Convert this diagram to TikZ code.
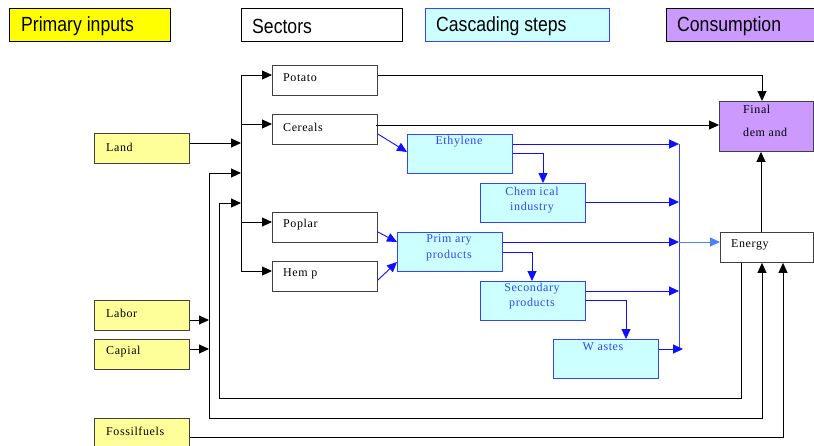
\documentclass[tikz,border=0pt]{standalone}
\usepackage{fontspec}
\usetikzlibrary{arrows.meta,calc}
\newfontfamily\hdrfont[FakeStretch=0.86]{Liberation Sans}
\newfontfamily\boxfont[LetterSpace=5]{Liberation Serif}
\definecolor{hdryellow}{HTML}{FFFF00}
\definecolor{inyellow}{HTML}{FFFF99}
\definecolor{cascfill}{HTML}{CCFFFF}
\definecolor{cascline}{HTML}{3344FF}
\definecolor{flowblue}{HTML}{1010FF}
\definecolor{lightflow}{HTML}{4D7FFF}
\definecolor{consfill}{HTML}{CC99FF}
\definecolor{edgegray}{HTML}{404040}
\tikzset{
  boxbase/.style={rectangle, anchor=north west, inner sep=0pt, line width=0.9pt},
  hdr/.style={boxbase, draw=black, minimum height=33pt},
  inputbox/.style={boxbase, draw=edgegray, fill=inyellow, minimum width=95pt, minimum height=30pt},
  sectorbox/.style={boxbase, draw=edgegray, fill=white, minimum width=105pt, minimum height=30pt},
  cascbox/.style={boxbase, draw=cascline, fill=cascfill, minimum width=105pt, minimum height=39pt},
  consbox/.style={boxbase, draw=edgegray, fill=consfill},
  hdrtext/.style={anchor=west, inner sep=0pt, font=\hdrfont\fontsize{20.5}{22}\selectfont},
  lbl/.style={anchor=west, inner sep=0pt, font=\boxfont\fontsize{12}{13}\selectfont},
  blbl/.style={anchor=center, inner sep=0pt, text=cascline, font=\boxfont\fontsize{12}{13}\selectfont},
  tip/.style={-{Triangle[length=10pt,width=9pt]}},
  arr/.style={tip, draw=black, line width=0.9pt},
  barr/.style={tip, draw=flowblue, line width=0.9pt},
  larr/.style={tip, draw=lightflow, line width=0.9pt},
  wire/.style={draw=black, line width=0.9pt},
}
\begin{document}
\begin{tikzpicture}[x=1pt,y=-1pt]
\useasboundingbox (0,0) rectangle (814,445);

% legend boxes along the top
\node[hdr, fill=hdryellow, minimum width=161pt] (hPrim) at (9,8) {};
\node[hdrtext] (hPrimT) at (21,26.5) {Primary inputs};
\node[hdr, fill=white, minimum width=161pt] (hSect) at (241,8) {};
\node[hdrtext] (hSectT) at (252,26.5) {Sectors};
\node[hdr, draw=cascline, fill=cascfill, minimum width=184pt] (hCasc) at (425,8) {};
\node[hdrtext] (hCascT) at (436,26.5) {Cascading steps};
\node[hdr, fill=consfill, minimum width=160pt] (hCons) at (666,8) {};
\node[hdrtext] (hConsT) at (677,26.5) {Consumption};

% primary inputs
\node[inputbox] (land) at (94,133) {};
\node[lbl] (landT) at (106,147) {Land};
\node[inputbox] (labor) at (94,300) {};
\node[lbl] (laborT) at (106,313) {Labor};
\node[inputbox] (capital) at (94,339) {};
\node[lbl] (capitalT) at (106,352) {Capial};
\node[inputbox] (fossil) at (94,418) {};
\node[lbl] (fossilT) at (106,431) {Fossilfuels};

% sectors
\node[sectorbox] (potato) at (272,65) {};
\node[lbl] (potatoT) at (283,78) {Potato};
\node[sectorbox] (cereals) at (272,114) {};
\node[lbl] (cerealsT) at (283,127) {Cereals};
\node[sectorbox] (poplar) at (272,212) {};
\node[lbl] (poplarT) at (283,225) {Poplar};
\node[sectorbox] (hemp) at (272,261) {};
\node[lbl] (hempT) at (283,274) {Hem p};

% cascading steps
\node[cascbox] (eth) at (407,134) {};
\node[blbl] (ethT) at (459,142) {Ethylene};
\node[cascbox] (chem) at (480,183) {};
\node[blbl] (chemT) at (532,191) {Chem ical};
\node[blbl] (chemT2) at (532,208) {industry};
\node[cascbox] (prim) at (397,232) {};
\node[blbl] (primT) at (449,240) {Prim ary};
\node[blbl] (primT2) at (449,256) {products};
\node[cascbox] (sec) at (480,281) {};
\node[blbl] (secT) at (532,289) {Secondary};
\node[blbl] (secT2) at (532,304) {products};
\node[cascbox] (wastes) at (553,339) {};
\node[blbl] (wastesT) at (603,347) {W astes};

% consumption and energy
\node[consbox, minimum width=94pt, minimum height=50pt] (fd) at (719,101) {};
\node[lbl] (fdT) at (743,109) {Final};
\node[lbl] (fdT2) at (743,132) {dem and};
\node[sectorbox, minimum width=93pt] (energy) at (720,232) {};
\node[lbl] (energyT) at (731,245) {Energy};

% distribution bus feeding the sectors
\coordinate (bt) at (241,75);
\coordinate (bb) at (241,271);
\draw[wire] (bt) -- (bb);
\coordinate (potIn) at ($(potato.north west)+(0,10)$);
\coordinate (cerIn) at ($(cereals.north west)+(0,10)$);
\coordinate (popIn) at ($(poplar.north west)+(0,10)$);
\coordinate (hemIn) at ($(hemp.north west)+(0,10)$);
\draw[arr] (potIn -| bt) -- (potIn);
\draw[arr] (cerIn -| bt) -- (cerIn);
\draw[arr] (popIn -| bt) -- (popIn);
\draw[arr] (hemIn -| bt) -- (hemIn);

% land onto the bus
\coordinate (landOut) at ($(land.north east)+(0,10)$);
\draw[arr] (landOut) -- (landOut -| bt);

% labour and capital rail
\coordinate (railB) at (209,418);
\coordinate (railBin) at (241,173);
\coordinate (laborOut) at ($(labor.north east)+(0,20)$);
\coordinate (capOut) at ($(capital.north east)+(0,10)$);
\draw[arr] (laborOut) -- (laborOut -| railB);
\draw[arr] (capOut) -- (capOut -| railB);
\draw[arr] (railB) |- (railBin);
\coordinate (eIn1) at ($(energy.south west)+(42,0)$);
\draw[arr] (railB) -| (eIn1);

% energy back into the sectors
\coordinate (eOut) at ($(energy.south west)+(21,0)$);
\coordinate (railA) at (219,398);
\coordinate (railAin) at (241,203);
\draw[arr] (eOut) |- (railA) |- (railAin);

% fossil fuels into energy
\coordinate (fosOut) at ($(fossil.north east)+(0,19)$);
\coordinate (eIn2) at ($(energy.south west)+(63,0)$);
\draw[arr] (fosOut) -| (eIn2);

% energy and sectors into final demand
\coordinate (eTop) at ($(energy.north west)+(41,0)$);
\draw[arr] (eTop) -- (eTop |- fd.south);
\coordinate (potOut) at ($(potato.north east)+(0,10)$);
\coordinate (fdTop) at ($(fd.north west)+(43,0)$);
\draw[arr] (potOut) -| (fdTop);
\coordinate (cerOut) at ($(cereals.north east)+(-2,11)$);
\draw[arr] (cerOut) -- (cerOut -| fd.west);

% sectors into the cascading chain
\draw[barr] ($(cereals.north east)+(0,20)$) -- ($(eth.north west)+(0,18)$);
\draw[barr] ($(poplar.north east)+(0,20)$) -- ($(prim.north west)+(0,10)$);
\draw[barr] ($(hemp.north east)+(0,19)$) -- ($(prim.north west)+(0,30)$);

% collector of the cascading outputs
\coordinate (ct) at (679,144);
\coordinate (cb) at (679,349);
\draw[draw=cascline, line width=0.9pt] (ct) -- (cb);
\coordinate (ethOut) at ($(eth.north east)+(0,10)$);
\draw[barr] (ethOut) -- (ethOut -| ct);
\draw[barr] ($(eth.north east)+(0,19)$) -| ($(chem.north west)+(63,0)$);
\coordinate (chemOut) at ($(chem.north east)+(0,19)$);
\draw[barr] (chemOut) -- (chemOut -| ct);
\coordinate (primOut) at ($(prim.north east)+(0,10)$);
\draw[barr] (primOut) -- (primOut -| ct);
\draw[barr] ($(prim.north east)+(0,20)$) -| ($(sec.north west)+(52,0)$);
\coordinate (secOut) at ($(sec.north east)+(0,10)$);
\draw[barr] (secOut) -- (secOut -| ct);
\draw[barr] ($(sec.north east)+(0,19)$) -| ($(wastes.north west)+(73,0)$);
\coordinate (wasOut) at ($(wastes.north east)+(0,10)$);
\draw[barr] (wasOut) -- ($(wasOut -| ct)+(4,0)$);
\coordinate (eIn3) at ($(energy.north west)+(0,10)$);
\draw[larr] (eIn3 -| ct) -- (eIn3);
\end{tikzpicture}
\end{document}
